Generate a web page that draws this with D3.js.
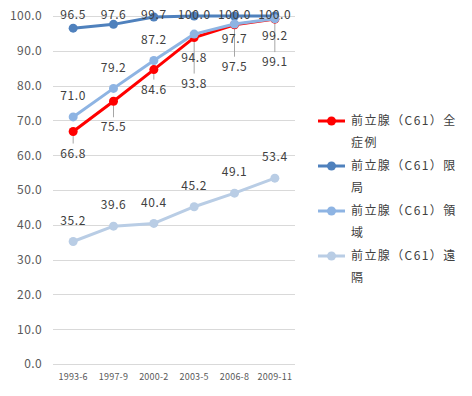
<!DOCTYPE html>
<html>
<head>
<meta charset="utf-8">
<script src="https://cdn.jsdelivr.net/npm/d3@7"></script>
<style>
  body { margin: 0; background: #fff; }
  text { font-family: "Noto Sans CJK JP", "Noto Sans", sans-serif; }
</style>
</head>
<body>
<div id="wrapper"></div>
<script>
const periods = ["1993-6", "1997-9", "2000-2", "2003-5", "2006-8", "2009-11"]
const seriesNames = ["前立腺（C61）全症例", "前立腺（C61）限局", "前立腺（C61）領域", "前立腺（C61）遠隔"]
const allCases = [66.8, 75.5, 84.6, 93.8, 97.5, 99.1]
const localized = [96.5, 97.6, 99.7, 100.0, 100.0, 100.0]
const regional = [71.0, 79.2, 87.2, 94.8, 97.7, 99.2]
const distant = [35.2, 39.6, 40.4, 45.2, 49.1, 53.4]
const yTicks = [0, 10, 20, 30, 40, 50, 60, 70, 80, 90, 100]

// label placement (px offset from point), tuned to the picture
const labelDy = [
    [22, 26, 20, 46, 42, 43],
    [-13, -10, -2, -1, -1, -1],
    [-21, -21, -21, 24, 15, 17],
    [-21, -21, -21, -21, -21, -21],
]
const colors = ["#ff0000", "#4f81bd", "#8eb4e3", "#b9cde5"]

let dimensions = {
    width: 472,
    height: 396,
    margin: { top: 16, right: 177, bottom: 32, left: 53 },
}
dimensions.boundedWidth = dimensions.width - dimensions.margin.left - dimensions.margin.right
dimensions.boundedHeight = dimensions.height - dimensions.margin.top - dimensions.margin.bottom

const svg = d3.select("#wrapper")
    .append("svg")
    .attr("width", dimensions.width)
    .attr("height", dimensions.height)

const bounds = svg.append("g")
    .attr("transform", `translate(${dimensions.margin.left},${dimensions.margin.top})`)

const xScale = d3.scaleBand()
    .domain(periods)
    .range([0, dimensions.boundedWidth])

const yScale = d3.scaleLinear()
    .domain([0, 100])
    .range([dimensions.boundedHeight, 0])

// gridlines
bounds.append("g")
    .selectAll("line")
    .data(yTicks)
    .enter()
    .append("line")
    .attr("x1", 0)
    .attr("x2", dimensions.boundedWidth)
    .attr("y1", d => Math.round(yScale(d)) + 0.5)
    .attr("y2", d => Math.round(yScale(d)) + 0.5)
    .attr("stroke", "#d9d9d9")

// y axis
const yAxis = bounds.append("g")
    .call(d3.axisLeft(yScale).tickValues(yTicks).tickFormat(d3.format(".1f")).tickSize(0).tickPadding(11))
yAxis.select(".domain").remove()
yAxis.selectAll("text")
    .attr("font-size", 12)
    .attr("fill", "#595959")
    .style("letter-spacing", "0.4px")

// x axis
const xAxis = bounds.append("g")
    .attr("transform", `translate(0,${dimensions.boundedHeight})`)
    .call(d3.axisBottom(xScale).tickSize(0).tickPadding(10))
xAxis.select(".domain").remove()
xAxis.selectAll("text")
    .attr("font-size", 9)
    .attr("fill", "#595959")
    .style("letter-spacing", "0.2px")

const allSeries = [allCases, localized, regional, distant]
const xPos = (d, i) => xScale(periods[i]) + xScale.bandwidth() / 2

// leader lines for the red labels
bounds.append("g")
    .selectAll("line")
    .data(allCases)
    .enter()
    .append("line")
    .attr("x1", xPos)
    .attr("x2", xPos)
    .attr("y1", d => yScale(d) + 4)
    .attr("y2", (d, i) => yScale(d) + labelDy[0][i] - 10)
    .attr("stroke", "#a6a6a6")
    .attr("stroke-width", 1)

allSeries.forEach((values, s) => {
    const g = bounds.append("g")
    g.append("path")
        .datum(values)
        .attr("fill", "none")
        .attr("stroke", colors[s])
        .attr("stroke-width", 3)
        .attr("stroke-linejoin", "round")
        .attr("d", d3.line()
            .x(xPos)
            .y(d => yScale(d))
        )
    g.selectAll("circle")
        .data(values)
        .enter()
        .append("circle")
        .attr("cx", xPos)
        .attr("cy", d => yScale(d))
        .attr("r", 4.5)
        .attr("fill", colors[s])
})

allSeries.forEach((values, s) => {
    bounds.append("g")
        .selectAll("text")
        .data(values)
        .enter()
        .append("text")
        .attr("x", xPos)
        .attr("y", (d, i) => yScale(d) + labelDy[s][i])
        .attr("dy", "0.35em")
        .attr("text-anchor", "middle")
        .attr("font-size", 12)
        .attr("fill", "#404040")
        .style("letter-spacing", "0.6px")
        .text(d => d3.format(".1f")(d))
})

// legend
const legend = svg.append("g")
    .attr("transform", "translate(318,121)")
seriesNames.forEach((name, i) => {
    const item = legend.append("g")
        .attr("transform", `translate(0,${i * 45})`)
    item.append("line")
        .attr("x1", 0).attr("x2", 27)
        .attr("stroke", colors[i])
        .attr("stroke-width", 3)
    item.append("circle")
        .attr("cx", 13.5)
        .attr("r", 4.5)
        .attr("fill", colors[i])
    const t = item.append("text")
        .attr("x", 33)
        .attr("font-size", 12)
        .attr("fill", "#404040")
        .style("letter-spacing", "1.4px")
    const cut = name.indexOf("）") + 2
    t.append("tspan").attr("x", 33).attr("dy", "0.35em").text(name.slice(0, cut))
    t.append("tspan").attr("x", 33).attr("dy", 22).text(name.slice(cut))
})
</script>
</body>
</html>
